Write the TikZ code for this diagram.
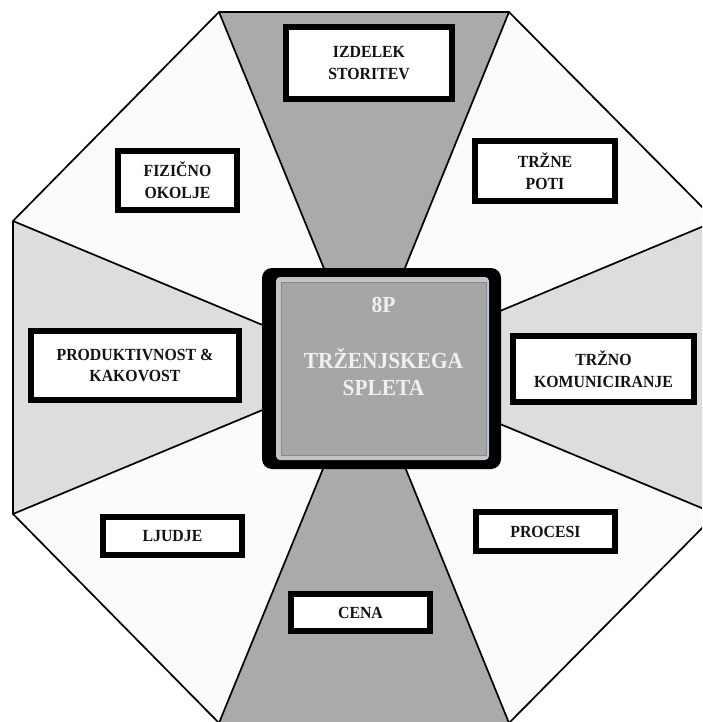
\documentclass[tikz,border=0pt]{standalone}
\usepackage{fontspec}
\setmainfont{Liberation Serif}
\newfontfamily\narrowserif[FakeStretch=0.93]{Liberation Serif}
\definecolor{darksector}{HTML}{A9AAA9}
\definecolor{lightsector}{HTML}{DCDDDC}
\definecolor{whitesector}{HTML}{FBFBFB}
\definecolor{boxgray}{HTML}{A6A6A6}
\definecolor{boxrim}{HTML}{C4C4C4}
\definecolor{boxline}{HTML}{7A8AA0}
\begin{document}
\begin{tikzpicture}[x=1pt,y=-1pt]
\tikzstyle{label box}=[draw=black,line width=6pt,fill=white,align=center,inner sep=0pt,text=black!93,font=\narrowserif\fontsize{17}{21.6}\selectfont\bfseries]
\tikzstyle{centre text}=[anchor=base,inner sep=0pt,text=white!94!black,font=\narrowserif\fontsize{23}{29}\selectfont\bfseries]
\useasboundingbox (0,0) rectangle (702,722);
\clip (0,0) rectangle (702,722);
% octagon corners and centre
\coordinate (c) at (364.5,367.5);
\coordinate (tl) at (219,12);
\coordinate (tr) at (509,12);
\coordinate (ru) at (716,221);
\coordinate (rl) at (716,514);
\coordinate (br) at (509,723);
\coordinate (bl) at (219,723);
\coordinate (ll) at (13,514);
\coordinate (lu) at (13,221);
% sectors
\fill [darksector] (tl) -- (tr) -- (c) -- cycle;
\fill [whitesector] (tr) -- (ru) -- (c) -- cycle;
\fill [lightsector] (ru) -- (rl) -- (c) -- cycle;
\fill [whitesector] (rl) -- (br) -- (c) -- cycle;
\fill [darksector] (br) -- (bl) -- (c) -- cycle;
\fill [whitesector] (bl) -- (ll) -- (c) -- cycle;
\fill [lightsector] (ll) -- (lu) -- (c) -- cycle;
\fill [whitesector] (lu) -- (tl) -- (c) -- cycle;
\foreach \v in {tl,tr,ru,rl,br,bl,ll,lu}
  \draw [black,line width=1.7pt] (c) -- (\v);
\draw [black,line width=1.7pt] (tl) -- (tr) -- (ru) -- (rl) -- (br) -- (bl) -- (ll) -- (lu) -- cycle;
% centre box
\fill [black,rounded corners=10pt] (262,268) rectangle (501,469);
\fill [boxrim,rounded corners=4pt] (276,277) rectangle (489,460);
\draw [boxline,fill=boxgray,line width=0.6pt] (281,282) rectangle (486,455);
\node [centre text] (eightp) at (383.5,312.5) {8P};
\node [centre text] (mixa) at (383.5,368) {TRŽENJSKEGA};
\node [centre text] (mixb) at (383.5,395) {SPLETA};
% the eight P
\node [label box,minimum width=166pt,minimum height=72pt] (izdelek) at (369,63) {IZDELEK\\STORITEV};
\node [label box,minimum width=119pt,minimum height=59pt] (fizicno) at (177.5,180.5) {FIZIČNO\\OKOLJE};
\node [label box,minimum width=140pt,minimum height=60pt] (poti) at (545,171) {TRŽNE\\POTI};
\node [label box,minimum width=208pt,minimum height=69pt] (produkt) at (135,365.5) {PRODUKTIVNOST \&\\KAKOVOST};
\node [label box,minimum width=181pt,minimum height=66pt] (komunik) at (603.5,369) {TRŽNO\\KOMUNICIRANJE};
\node [label box,minimum width=139pt,minimum height=38pt] (ljudje) at (172.5,536) {LJUDJE};
\node [label box,minimum width=139pt,minimum height=39pt] (procesi) at (545.5,531.5) {PROCESI};
\node [label box,minimum width=139pt,minimum height=37pt] (cena) at (360.5,612.5) {CENA};
\end{tikzpicture}
\end{document}
